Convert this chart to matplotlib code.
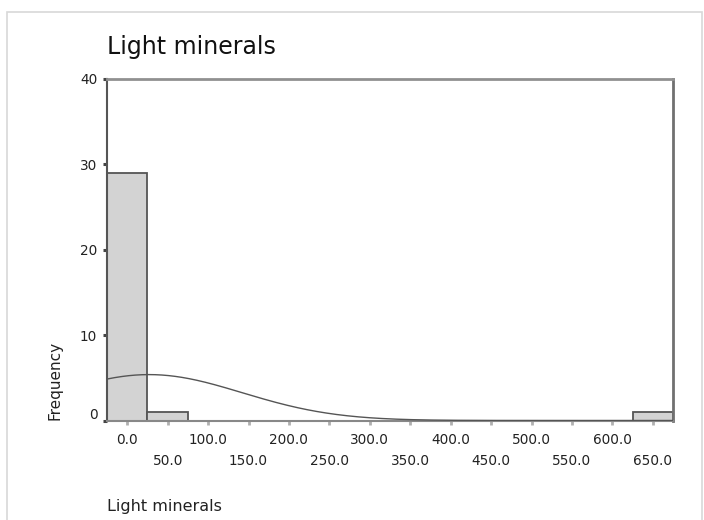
import numpy as np
import matplotlib
matplotlib.use("Agg")
import matplotlib.pyplot as plt
import matplotlib.transforms as mtransforms
from matplotlib.patches import Rectangle

# Data
bin_centers = [0, 50, 650]
bin_counts = [29, 1, 1]
bin_width = 50
n_total = 31
fit_mean = 27.0
fit_sd = 115.0
x_major = [0, 100, 200, 300, 400, 500, 600]
x_minor = [50, 150, 250, 350, 450, 550, 650]
y_ticks = [0, 10, 20, 30, 40]
title = "Light minerals"
xlabel = "Light minerals"
ylabel = "Frequency"

W, H = 704, 520
fig = plt.figure(figsize=(W / 100, H / 100), dpi=100)
fig.patch.set_facecolor("white")

# Outer light frame
fig.add_artist(Rectangle((7 / W, -0.05), (702 - 7) / W, (520 - 12) / H + 0.05,
                         transform=fig.transFigure, fill=False,
                         edgecolor="#d8d8d8", linewidth=1.2))

left, right, top, bottom = 107, 673, 79, 420.5
ax = fig.add_axes([left / W, 1 - bottom / H, (right - left) / W, (bottom - top) / H])

ax.bar(bin_centers, bin_counts, width=bin_width, color="#d3d3d3",
       edgecolor="#555555", linewidth=1.3, zorder=2)

xs = np.linspace(-25, 675, 600)
curve = n_total * bin_width / (fit_sd * np.sqrt(2 * np.pi)) * np.exp(-0.5 * ((xs - fit_mean) / fit_sd) ** 2)
ax.plot(xs, curve, color="#555555", linewidth=1.0, zorder=3)

ax.set_xlim(-25, 675)
ax.set_ylim(0, 40)

ax.set_yticks(y_ticks)
ax.set_yticklabels([str(v) for v in y_ticks])
ax.set_xticks(x_major)
ax.set_xticklabels([f"{v:.1f}" for v in x_major])
ax.set_xticks(x_minor, minor=True)
ax.set_xticklabels([f"{v:.1f}" for v in x_minor], minor=True)

ax.tick_params(axis="y", direction="out", length=3, width=2.2, color="#444444",
               labelsize=9.8, pad=4, labelcolor="#222222")
ax.tick_params(axis="x", which="major", direction="out", length=3, width=2, color="#b0b0b0",
               labelsize=9.8, pad=6, labelcolor="#222222")
ax.tick_params(axis="x", which="minor", direction="out", length=3, width=2, color="#b0b0b0",
               labelsize=9.8, pad=21, labelcolor="#222222")

# the "0" label sits slightly above the baseline in the reference
lbl0 = ax.get_yticklabels()[0]
lbl0.set_transform(lbl0.get_transform() + mtransforms.ScaledTranslation(0, 7 / 100, fig.dpi_scale_trans))

for side, col, lw in [("left", "#555555", 1.5), ("bottom", "#888888", 1.5),
                      ("top", "#909090", 2.0), ("right", "#707070", 2.0)]:
    ax.spines[side].set_color(col)
    ax.spines[side].set_linewidth(lw)

fig.text(107 / W, 1 - 47 / H, title, fontsize=17, color="#111111",
         ha="left", va="center")
fig.text(107 / W, 1 - 506 / H, xlabel, fontsize=11.5, color="#222222",
         ha="left", va="center")
fig.text(55 / W, 1 - 380 / H, ylabel, fontsize=11, color="#222222",
         ha="center", va="center", rotation=90)

fig.savefig("out.png", dpi=100, facecolor="white")
